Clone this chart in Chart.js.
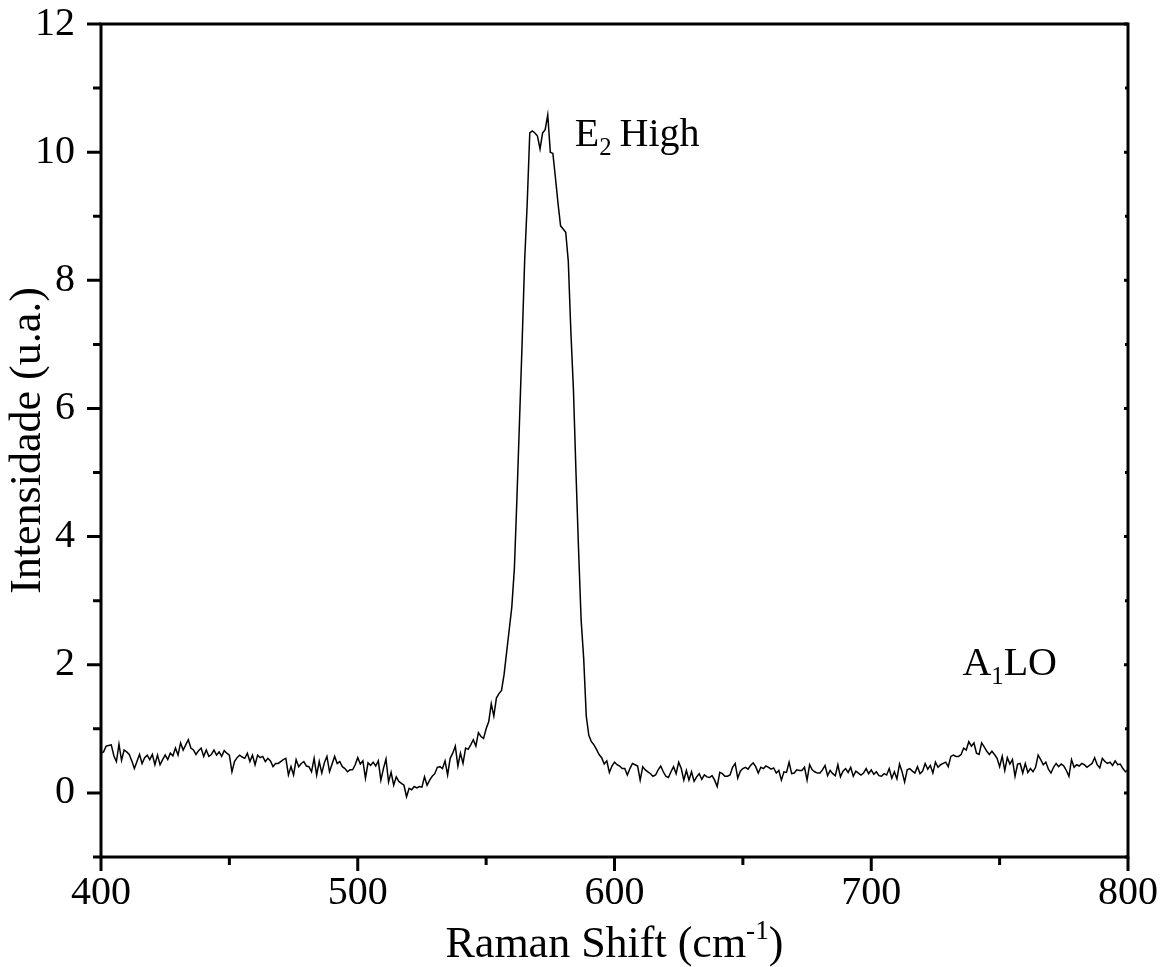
<!DOCTYPE html>
<html lang="pt">
<head>
    <meta charset="UTF-8">
    <title>Raman Shift</title>
    <script src="https://cdn.jsdelivr.net/npm/chart.js"></script>
    <style>
        html, body { margin: 0; padding: 0; background: #fff; }
        #wrap { width: 1166px; height: 967px; }
    </style>
</head>
<body>
    <div id="wrap"><canvas id="ramanChart" width="1166" height="967"></canvas></div>

    <script>
        // Raman shift (cm-1), one reading per wavenumber
        const shift = [
            400,401,402,403,404,405,406,407,408,409,410,411,412,413,414,415,416,417,418,419,
            420,421,422,423,424,425,426,427,428,429,430,431,432,433,434,435,436,437,438,439,
            440,441,442,443,444,445,446,447,448,449,450,451,452,453,454,455,456,457,458,459,
            460,461,462,463,464,465,466,467,468,469,470,471,472,473,474,475,476,477,478,479,
            480,481,482,483,484,485,486,487,488,489,490,491,492,493,494,495,496,497,498,499,
            500,501,502,503,504,505,506,507,508,509,510,511,512,513,514,515,516,517,518,519,
            520,521,522,523,524,525,526,527,528,529,530,531,532,533,534,535,536,537,538,539,
            540,541,542,543,544,545,546,547,548,549,550,551,552,553,554,555,556,557,558,559,
            560,561,562,563,564,565,566,567,568,569,570,571,572,573,574,575,576,577,578,579,
            580,581,582,583,584,585,586,587,588,589,590,591,592,593,594,595,596,597,598,599,
            600,601,602,603,604,605,606,607,608,609,610,611,612,613,614,615,616,617,618,619,
            620,621,622,623,624,625,626,627,628,629,630,631,632,633,634,635,636,637,638,639,
            640,641,642,643,644,645,646,647,648,649,650,651,652,653,654,655,656,657,658,659,
            660,661,662,663,664,665,666,667,668,669,670,671,672,673,674,675,676,677,678,679,
            680,681,682,683,684,685,686,687,688,689,690,691,692,693,694,695,696,697,698,699,
            700,701,702,703,704,705,706,707,708,709,710,711,712,713,714,715,716,717,718,719,
            720,721,722,723,724,725,726,727,728,729,730,731,732,733,734,735,736,737,738,739,
            740,741,742,743,744,745,746,747,748,749,750,751,752,753,754,755,756,757,758,759,
            760,761,762,763,764,765,766,767,768,769,770,771,772,773,774,775,776,777,778,779,
            780,781,782,783,784,785,786,787,788,789,790,791,792,793,794,795,796,797,798,799,
            800
        ];

        // Intensidade (u.a.)
        const intensity = [
            0.62,0.64,0.73,0.74,0.75,0.58,0.49,0.76,0.51,0.67,0.64,0.60,0.50,0.38,0.49,0.60,0.46,0.55,0.59,0.52,
            0.60,0.44,0.59,0.44,0.52,0.59,0.52,0.62,0.58,0.70,0.59,0.78,0.67,0.75,0.83,0.70,0.67,0.60,0.66,0.70,
            0.57,0.67,0.57,0.60,0.67,0.59,0.64,0.57,0.66,0.62,0.59,0.33,0.49,0.55,0.59,0.56,0.54,0.62,0.49,0.59,
            0.44,0.59,0.55,0.57,0.49,0.54,0.50,0.41,0.46,0.46,0.49,0.52,0.54,0.28,0.41,0.28,0.52,0.41,0.46,0.49,
            0.42,0.41,0.33,0.54,0.28,0.49,0.31,0.47,0.57,0.33,0.45,0.57,0.46,0.49,0.41,0.38,0.33,0.36,0.36,0.44,
            0.55,0.45,0.50,0.23,0.47,0.43,0.48,0.42,0.50,0.20,0.38,0.53,0.17,0.32,0.12,0.25,0.18,0.15,0.12,-0.06,
            0.07,0.05,0.10,0.08,0.10,0.09,0.25,0.12,0.20,0.26,0.30,0.40,0.41,0.38,0.50,0.28,0.54,0.62,0.73,0.42,
            0.62,0.46,0.70,0.68,0.75,0.83,0.73,0.94,0.88,0.85,1.00,1.11,1.39,1.20,1.48,1.55,1.60,1.85,2.20,2.55,
            2.90,3.50,4.60,5.80,7.00,8.30,9.20,10.30,10.33,10.30,10.25,10.05,10.30,10.35,10.58,10.00,9.98,9.60,9.20,8.85,
            8.80,8.75,8.30,7.20,6.30,5.00,3.80,2.70,2.10,1.20,0.90,0.80,0.75,0.68,0.60,0.55,0.45,0.50,0.32,0.42,
            0.48,0.44,0.42,0.38,0.38,0.28,0.38,0.46,0.44,0.42,0.20,0.41,0.36,0.33,0.30,0.26,0.28,0.36,0.42,0.33,
            0.26,0.24,0.33,0.41,0.30,0.48,0.38,0.20,0.35,0.20,0.33,0.18,0.25,0.30,0.21,0.28,0.25,0.24,0.27,0.20,
            0.10,0.32,0.30,0.26,0.26,0.28,0.40,0.46,0.23,0.34,0.38,0.40,0.37,0.43,0.47,0.41,0.31,0.40,0.38,0.42,
            0.40,0.37,0.39,0.31,0.35,0.20,0.33,0.32,0.48,0.30,0.31,0.36,0.35,0.35,0.40,0.20,0.44,0.36,0.33,0.31,
            0.31,0.36,0.43,0.27,0.35,0.30,0.27,0.44,0.25,0.34,0.38,0.32,0.40,0.26,0.34,0.31,0.28,0.31,0.38,0.30,
            0.36,0.29,0.33,0.27,0.26,0.30,0.28,0.38,0.23,0.33,0.22,0.45,0.33,0.17,0.36,0.38,0.34,0.31,0.41,0.30,
            0.34,0.46,0.37,0.43,0.31,0.48,0.40,0.44,0.46,0.48,0.41,0.57,0.59,0.57,0.57,0.60,0.70,0.67,0.80,0.73,
            0.78,0.62,0.60,0.78,0.72,0.65,0.60,0.65,0.60,0.54,0.41,0.57,0.35,0.55,0.45,0.52,0.26,0.45,0.46,0.31,
            0.46,0.32,0.38,0.33,0.40,0.59,0.52,0.44,0.48,0.37,0.31,0.40,0.46,0.41,0.45,0.42,0.35,0.26,0.52,0.40,
            0.44,0.42,0.46,0.44,0.40,0.43,0.46,0.55,0.44,0.39,0.54,0.49,0.46,0.48,0.43,0.50,0.44,0.45,0.38,0.33,
            0.36
        ];

        // axis ticks
        const xMajorTicks = [400, 500, 600, 700, 800];
        const xMinorTicks = [450, 550, 650, 750];
        const yMajorTicks = [0, 2, 4, 6, 8, 10, 12];
        const yMinorTicks = [-1, 1, 3, 5, 7, 9, 11];

        const FONT = '"Liberation Serif", "Times New Roman", serif';
        const FS = 40;       // tick labels and peak labels
        const TITLE_FS = 44; // axis titles

        // draws text pieces with sub/superscripts on baseline y
        function drawRich(ctx, parts, x, y, align, size) {
            const font = p => (p.small ? size * 0.62 : size) + 'px ' + FONT;
            let total = 0;
            parts.forEach(p => { ctx.font = font(p); total += ctx.measureText(p.t).width + (p.gap || 0); });
            let cx = align === 'center' ? x - total / 2 : x;
            parts.forEach(p => {
                ctx.font = font(p);
                cx += p.gap || 0;
                let dy = p.small === 'sub' ? size * 0.22 : (p.small === 'sup' ? -size * 0.4 : 0);
                ctx.fillText(p.t, cx, y + dy);
                cx += ctx.measureText(p.t).width;
            });
        }

        // keep tick labels from pushing the plot area around
        function noPad(s) {
            s.paddingLeft = 0; s.paddingRight = 0; s.paddingTop = 0; s.paddingBottom = 0;
        }

        const framePlugin = {
            id: 'frame',
            afterDraw(chart) {
                const ctx = chart.ctx;
                const a = chart.chartArea;
                const xs = chart.scales.x, ys = chart.scales.y;
                ctx.save();
                ctx.strokeStyle = '#000';
                ctx.lineWidth = 3;
                ctx.lineCap = 'butt';
                ctx.strokeRect(a.left, a.top, a.right - a.left, a.bottom - a.top);

                ctx.beginPath();
                xMajorTicks.forEach(v => {
                    const px = xs.getPixelForValue(v);
                    ctx.moveTo(px, a.bottom); ctx.lineTo(px, a.bottom + 14);
                });
                xMinorTicks.forEach(v => {
                    const px = xs.getPixelForValue(v);
                    ctx.moveTo(px, a.bottom); ctx.lineTo(px, a.bottom + 8);
                });
                yMajorTicks.forEach(v => {
                    const py = ys.getPixelForValue(v);
                    ctx.moveTo(a.left, py); ctx.lineTo(a.left - 14, py);
                    ctx.moveTo(a.right, py); ctx.lineTo(a.right - 4, py);
                });
                yMinorTicks.forEach(v => {
                    const py = ys.getPixelForValue(v);
                    ctx.moveTo(a.left, py); ctx.lineTo(a.left - 8, py);
                    ctx.moveTo(a.right, py); ctx.lineTo(a.right - 3, py);
                });
                ctx.stroke();

                ctx.fillStyle = '#000';
                ctx.textBaseline = 'alphabetic';
                ctx.textAlign = 'left';

                // x title
                drawRich(ctx, [{t: 'Raman Shift (cm'}, {t: '-1', small: 'sup'}, {t: ')'}],
                    (a.left + a.right) / 2, 957, 'center', TITLE_FS);

                // y title
                ctx.save();
                ctx.translate(40, (a.top + a.bottom) / 2);
                ctx.rotate(-Math.PI / 2);
                ctx.font = TITLE_FS + 'px ' + FONT;
                ctx.textAlign = 'center';
                ctx.fillText('Intensidade (u.a.)', 0, 0);
                ctx.restore();

                // peak labels
                drawRich(ctx, [{t: 'E'}, {t: '2', small: 'sub'}, {t: 'High', gap: 8}],
                    xs.getPixelForValue(584.5), ys.getPixelForValue(10.1), 'left', FS);
                drawRich(ctx, [{t: 'A'}, {t: '1', small: 'sub'}, {t: 'LO'}],
                    xs.getPixelForValue(735.5), ys.getPixelForValue(1.84), 'left', FS);
                ctx.restore();
            }
        };

        new Chart(document.getElementById('ramanChart'), {
            type: 'line',
            data: {
                datasets: [{
                    data: shift.map((s, i) => ({ x: s, y: intensity[i] })),
                    borderColor: '#000',
                    borderWidth: 1.5,
                    pointRadius: 0,
                    tension: 0,
                    fill: false
                }]
            },
            options: {
                responsive: false,
                animation: false,
                layout: { padding: { left: 0, top: 24, right: 38, bottom: 0 } },
                plugins: {
                    legend: { display: false },
                    tooltip: { enabled: false }
                },
                scales: {
                    x: {
                        type: 'linear',
                        min: 400,
                        max: 800,
                        afterFit: s => { s.height = 110; noPad(s); },
                        afterBuildTicks: s => { s.ticks = xMajorTicks.map(v => ({ value: v })); },
                        grid: { display: false, drawTicks: false },
                        border: { display: false },
                        ticks: {
                            color: '#000',
                            padding: 12,
                            maxRotation: 0,
                            font: { family: FONT, size: FS }
                        }
                    },
                    y: {
                        type: 'linear',
                        min: -1,
                        max: 12,
                        afterFit: s => { s.width = 101; noPad(s); },
                        afterBuildTicks: s => { s.ticks = yMajorTicks.map(v => ({ value: v })); },
                        grid: { display: false, drawTicks: false },
                        border: { display: false },
                        ticks: {
                            color: '#000',
                            padding: 26,
                            font: { family: FONT, size: FS }
                        }
                    }
                }
            },
            plugins: [framePlugin]
        });
    </script>
</body>
</html>
